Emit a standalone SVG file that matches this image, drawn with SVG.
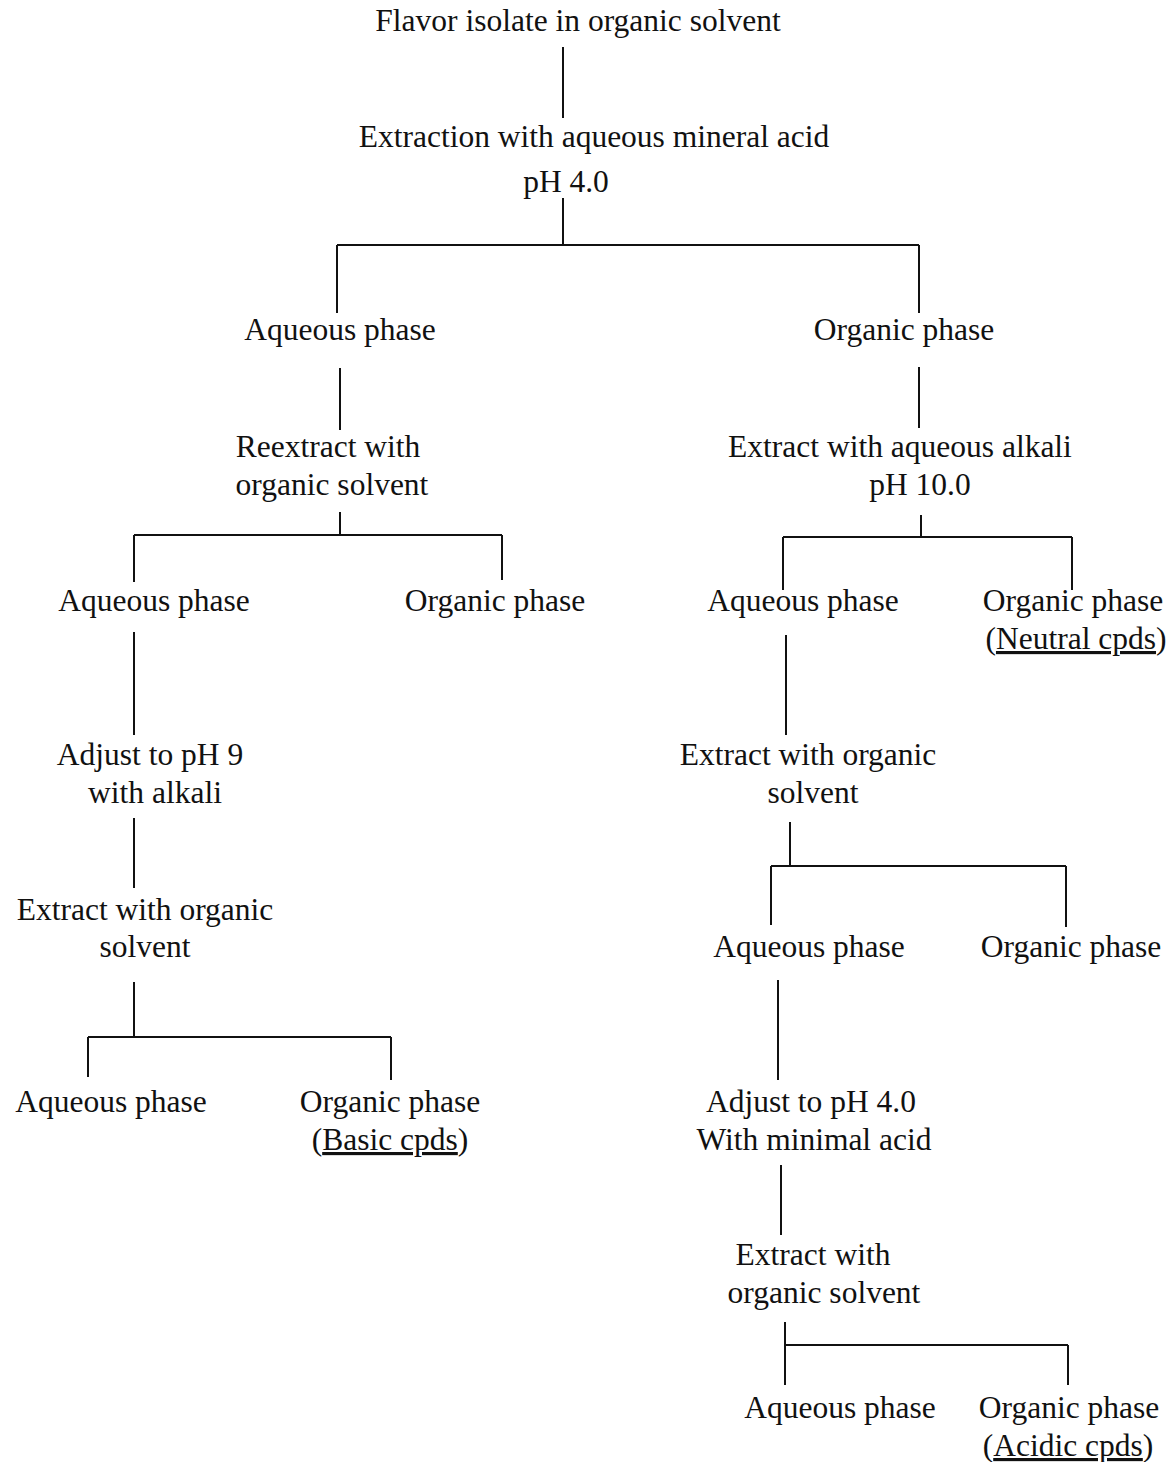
<svg xmlns="http://www.w3.org/2000/svg" width="1174" height="1462" viewBox="0 0 1174 1462">
<style>
text{font-family:"Liberation Serif","Times New Roman",serif;font-size:31.5px;fill:#111;text-anchor:middle}
.u{text-decoration:underline}
#connectors line{stroke:#111;stroke-width:2;fill:none}
</style>
<rect width="1174" height="1462" fill="#fff"/>
<g id="connectors">
<line x1="563" y1="47" x2="563" y2="118"/>
<line x1="563" y1="198" x2="563" y2="245"/>
<line x1="337" y1="245" x2="919" y2="245"/>
<line x1="337" y1="245" x2="337" y2="313"/>
<line x1="919" y1="245" x2="919" y2="313"/>
<line x1="340" y1="368" x2="340" y2="430"/>
<line x1="340" y1="512" x2="340" y2="535"/>
<line x1="134" y1="535" x2="502" y2="535"/>
<line x1="134" y1="535" x2="134" y2="582"/>
<line x1="502" y1="535" x2="502" y2="580"/>
<line x1="134" y1="632" x2="134" y2="735"/>
<line x1="134" y1="818" x2="134" y2="888"/>
<line x1="134" y1="982" x2="134" y2="1037"/>
<line x1="88" y1="1037" x2="391" y2="1037"/>
<line x1="88" y1="1037" x2="88" y2="1077"/>
<line x1="391" y1="1037" x2="391" y2="1080"/>
<line x1="919" y1="367" x2="919" y2="428"/>
<line x1="921" y1="515" x2="921" y2="537"/>
<line x1="783" y1="537" x2="1072" y2="537"/>
<line x1="783" y1="537" x2="783" y2="590"/>
<line x1="1072" y1="537" x2="1072" y2="590"/>
<line x1="786" y1="635" x2="786" y2="735"/>
<line x1="790" y1="822" x2="790" y2="866"/>
<line x1="771" y1="866" x2="1066" y2="866"/>
<line x1="771" y1="866" x2="771" y2="925"/>
<line x1="1066" y1="866" x2="1066" y2="927"/>
<line x1="778" y1="980" x2="778" y2="1080"/>
<line x1="781" y1="1165" x2="781" y2="1235"/>
<line x1="785" y1="1322" x2="785" y2="1385"/>
<line x1="785" y1="1345" x2="1068" y2="1345"/>
<line x1="1068" y1="1345" x2="1068" y2="1385"/>
</g>
<g id="n-flavor"><text x="578" y="31">Flavor isolate in organic solvent</text></g>
<g id="n-extraction"><text x="594" y="147">Extraction with aqueous mineral acid</text><text x="566" y="192">pH 4.0</text></g>
<g id="n-aq1"><text x="340" y="340">Aqueous phase</text></g>
<g id="n-org1"><text x="904" y="340">Organic phase</text></g>
<g id="n-reextract"><text x="328" y="457">Reextract with</text><text x="332" y="495">organic solvent</text></g>
<g id="n-aq2"><text x="154" y="611">Aqueous phase</text></g>
<g id="n-org2"><text x="495" y="611">Organic phase</text></g>
<g id="n-adjust9"><text x="150" y="765">Adjust to pH 9</text><text x="155" y="803">with alkali</text></g>
<g id="n-extract-l"><text x="145" y="920">Extract with organic</text><text x="145" y="957">solvent</text></g>
<g id="n-aq3"><text x="111" y="1112">Aqueous phase</text></g>
<g id="n-org3"><text x="390" y="1112">Organic phase</text><text x="390" y="1150">(<tspan class="u">Basic cpds</tspan>)</text></g>
<g id="n-alkali"><text x="900" y="457">Extract with aqueous alkali</text><text x="920" y="495">pH 10.0</text></g>
<g id="n-aq4"><text x="803" y="611">Aqueous phase</text></g>
<g id="n-org4"><text x="1073" y="611">Organic phase</text><text x="1076" y="649">(<tspan class="u">Neutral cpds</tspan>)</text></g>
<g id="n-extract-r1"><text x="808" y="765">Extract with organic</text><text x="813" y="803">solvent</text></g>
<g id="n-aq5"><text x="809" y="957">Aqueous phase</text></g>
<g id="n-org5"><text x="1071" y="957">Organic phase</text></g>
<g id="n-adjust4"><text x="811" y="1112">Adjust to pH 4.0</text><text x="814" y="1150">With minimal acid</text></g>
<g id="n-extract-r2"><text x="813" y="1265">Extract with</text><text x="824" y="1303">organic solvent</text></g>
<g id="n-aq6"><text x="840" y="1418">Aqueous phase</text></g>
<g id="n-org6"><text x="1069" y="1418">Organic phase</text><text x="1068" y="1456">(<tspan class="u">Acidic cpds</tspan>)</text></g>
</svg>
